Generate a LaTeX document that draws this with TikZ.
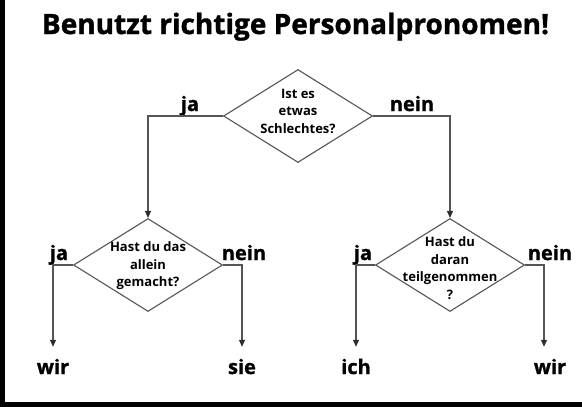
\documentclass[tikz,border=0pt]{standalone}
\usepackage{fontspec}
\setmainfont{Open Sans}
\newfontfamily\heavyfont{Open Sans}[BoldFeatures={FakeBold=1.2}]
\usetikzlibrary{shapes.geometric,arrows.meta}
\definecolor{linegray}{HTML}{555555}
\definecolor{tipgray}{HTML}{2E2E2E}
\begin{document}
\begin{tikzpicture}[x=1pt,y=-1pt,
  conn/.style={draw=linegray, line width=1.1pt},
  arr/.style={conn, -{Triangle[width=6pt,length=7pt,color=tipgray]}},
  dia/.style={diamond, draw=linegray, line width=1.1pt, minimum width=149pt, minimum height=93pt, inner sep=0pt},
  qtext/.style={font=\fontsize{13}{17.5}\selectfont\bfseries, align=center, inner sep=0pt},
  lab/.style={font=\heavyfont\fontsize{20}{24}\selectfont\bfseries, inner sep=0pt, anchor=base},
  leaf/.style={font=\heavyfont\fontsize{20}{24}\selectfont\bfseries, inner sep=0pt, anchor=base, text height=14pt, text depth=0pt},
  titlestyle/.style={font=\heavyfont\fontsize{28}{32}\selectfont\bfseries, inner sep=0pt, anchor=base}
]
\useasboundingbox (0,0) rectangle (582,407);
\fill[white] (0,0) rectangle (582,407);
\fill[black] (0,0) rectangle (5,407);
\fill[black] (0,402) rectangle (582,407);

\node[titlestyle] (title) at (295.5,34) {Benutzt richtige Personalpronomen!};

% diamonds
\node[dia] (d1) at (298,116) {};
\node[dia] (d2) at (148,265) {};
\node[dia] (d3) at (450,265) {};

\node[qtext] (t1) at (298,111) {Ist es\\etwas\\Schlechtes?};
\node[qtext] (t2) at (148,266) {Hast du das\\allein\\gemacht?};
\node[qtext] (t3) at (450,268) {Hast du\\daran\\teilgenommen\\?};

% branch labels
\node[lab] (ja1) at (190,111) {ja};
\node[lab] (nein1) at (412,111) {nein};
\node[lab] (ja2) at (59,260) {ja};
\node[lab] (nein2) at (244,260) {nein};
\node[lab] (ja3) at (363,260) {ja};
\node[lab] (nein3) at (550,260) {nein};

% leaves
\node[leaf] (wir1) at (53,374) {wir};
\node[leaf] (sie) at (242,374) {sie};
\node[leaf] (ich) at (356,374) {ich};
\node[leaf] (wir2) at (550,374) {wir};

% connectors
\draw[arr] (d1.west) -| (d2.north);
\draw[arr] (d1.east) -| (d3.north);
\draw[arr, shorten >=13pt] (d2.west) -| (wir1.north);
\draw[arr, shorten >=13pt] (d2.east) -| (sie.north);
\draw[arr, shorten >=13pt] (d3.west) -| (ich.north);
\draw[arr, shorten >=13pt] (d3.east) -| ([xshift=-6pt]wir2.north);
\end{tikzpicture}
\end{document}
